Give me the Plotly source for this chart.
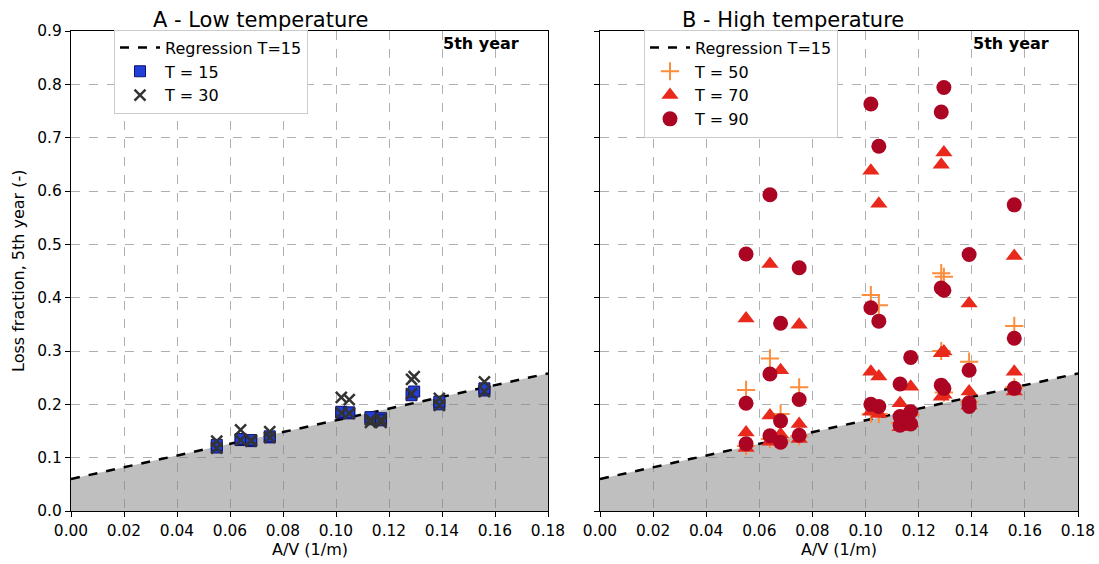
import plotly.graph_objects as go

# ---------------- data ----------------
reg_x = [0.0, 0.18]
reg_y = [0.060, 0.258]

# Panel A - low temperature
t15_x = [0.055, 0.055, 0.064, 0.064, 0.068, 0.068, 0.075, 0.075, 0.102, 0.102, 0.105, 0.105,
         0.113, 0.113, 0.117, 0.117, 0.1285, 0.1295, 0.139, 0.139, 0.156, 0.156]
t15_y = [0.119, 0.124, 0.133, 0.135, 0.131, 0.133, 0.138, 0.140, 0.184, 0.186, 0.183, 0.185,
         0.172, 0.176, 0.174, 0.170, 0.217, 0.224, 0.200, 0.205, 0.226, 0.230]
t30_x = [0.055, 0.055, 0.064, 0.064, 0.068, 0.068, 0.075, 0.075, 0.102, 0.102, 0.105, 0.105,
         0.113, 0.113, 0.117, 0.117, 0.1285, 0.1295, 0.1285, 0.139, 0.139, 0.156, 0.156]
t30_y = [0.118, 0.131, 0.133, 0.152, 0.131, 0.133, 0.138, 0.149, 0.184, 0.213, 0.183, 0.209,
         0.166, 0.172, 0.166, 0.172, 0.247, 0.252, 0.220, 0.198, 0.211, 0.224, 0.242]

# Panel B - high temperature
t50_x = [0.055, 0.055, 0.064, 0.064, 0.068, 0.068, 0.075, 0.075, 0.102, 0.102, 0.105, 0.105,
         0.113, 0.117, 0.1285, 0.1295, 0.1285, 0.1295, 0.139, 0.139, 0.156, 0.156]
t50_y = [0.227, 0.122, 0.286, 0.135, 0.182, 0.132, 0.232, 0.140, 0.405, 0.182, 0.386, 0.182,
         0.165, 0.180, 0.446, 0.439, 0.300, 0.222, 0.280, 0.205, 0.347, 0.232]
t70_x = [0.055, 0.055, 0.055, 0.064, 0.064, 0.064, 0.068, 0.068, 0.075, 0.075, 0.075,
         0.102, 0.102, 0.102, 0.105, 0.105, 0.105, 0.113, 0.113, 0.117, 0.117,
         0.1285, 0.1295, 0.1285, 0.1295, 0.1285, 0.1295, 0.139, 0.139, 0.139, 0.156, 0.156, 0.156]
t70_y = [0.361, 0.147, 0.118, 0.463, 0.179, 0.130, 0.264, 0.144, 0.349, 0.163, 0.135,
         0.638, 0.261, 0.186, 0.576, 0.252, 0.182, 0.202, 0.157, 0.233, 0.165,
         0.649, 0.672, 0.296, 0.299, 0.214, 0.218, 0.389, 0.224, 0.198, 0.478, 0.261, 0.224]
t90_x = [0.055, 0.055, 0.055, 0.064, 0.064, 0.064, 0.068, 0.068, 0.068, 0.075, 0.075, 0.075,
         0.102, 0.102, 0.102, 0.105, 0.105, 0.105, 0.113, 0.113, 0.113, 0.117, 0.117, 0.117,
         0.1285, 0.1295, 0.1285, 0.1295, 0.1285, 0.1295, 0.139, 0.139, 0.139, 0.139,
         0.156, 0.156, 0.156]
t90_y = [0.482, 0.202, 0.126, 0.593, 0.257, 0.141, 0.352, 0.169, 0.129, 0.456, 0.209, 0.142,
         0.763, 0.381, 0.200, 0.684, 0.356, 0.196, 0.238, 0.177, 0.161, 0.288, 0.186, 0.163,
         0.748, 0.794, 0.418, 0.414, 0.236, 0.230, 0.481, 0.264, 0.203, 0.196,
         0.574, 0.324, 0.230]

x_ticks = [0.00, 0.02, 0.04, 0.06, 0.08, 0.10, 0.12, 0.14, 0.16, 0.18]
y_ticks = [0.0, 0.1, 0.2, 0.3, 0.4, 0.5, 0.6, 0.7, 0.8, 0.9]

# ---------------- figure ----------------
FONT = "DejaVu Sans"
TICK_FS = 15.4
FS = 16
fig = go.Figure()

for xa, ya, leg in [("x", "y", "legend"), ("x2", "y2", "legend2")]:
    fig.add_trace(go.Scatter(x=reg_x, y=reg_y, xaxis=xa, yaxis=ya, mode="none",
                             fill="tozeroy", fillcolor="rgba(128,128,128,0.5)",
                             showlegend=False, hoverinfo="skip"))
    fig.add_trace(go.Scatter(x=reg_x, y=reg_y, xaxis=xa, yaxis=ya, mode="lines",
                             line=dict(color="black", width=2.5, dash="dash"),
                             name="Regression T=15", legend=leg))

fig.add_trace(go.Scatter(x=t15_x, y=t15_y, xaxis="x", yaxis="y", mode="markers",
                         marker=dict(symbol="square", size=11, color="#1f3fd6",
                                     line=dict(color="#101070", width=1)),
                         name="T = 15", legend="legend"))
fig.add_trace(go.Scatter(x=t30_x, y=t30_y, xaxis="x", yaxis="y", mode="markers",
                         marker=dict(symbol="x-thin", size=11, color="#333333",
                                     line=dict(color="#333333", width=2.5)),
                         name="T = 30", legend="legend"))

fig.add_trace(go.Scatter(x=t50_x, y=t50_y, xaxis="x2", yaxis="y2", mode="markers",
                         marker=dict(symbol="cross-thin", size=13, color="#fd8d3c",
                                     line=dict(color="#fd8d3c", width=2)),
                         name="T = 50", legend="legend2"))
fig.add_trace(go.Scatter(x=t70_x, y=t70_y, xaxis="x2", yaxis="y2", mode="markers",
                         marker=dict(symbol="triangle-up", size=15, color="#e8291c"),
                         name="T = 70", legend="legend2"))
fig.add_trace(go.Scatter(x=t90_x, y=t90_y, xaxis="x2", yaxis="y2", mode="markers",
                         marker=dict(symbol="circle", size=15, color="#ab0523"),
                         name="T = 90", legend="legend2"))

axis_common = dict(range=[0, 0.18], tickvals=x_ticks, ticktext=[f"{v:.2f}" for v in x_ticks],
                   showline=True, linecolor="black", linewidth=1.2, mirror=True,
                   ticks="outside", ticklen=5, tickcolor="black",
                   showgrid=True, gridcolor="#b0b0b0", griddash="dash", gridwidth=1,
                   zeroline=False, tickfont=dict(size=TICK_FS, color="black"),
                   automargin=False)
yaxis_common = dict(range=[0, 0.9], tickvals=y_ticks,
                    showline=True, linecolor="black", linewidth=1.2, mirror=True,
                    ticks="outside", ticklen=5, tickcolor="black",
                    showgrid=True, gridcolor="#b0b0b0", griddash="dash", gridwidth=1,
                    zeroline=False, tickfont=dict(size=TICK_FS, color="black"),
                    automargin=False)

W = 1007  # plot-area width spanning both panels (x 71 .. 1078)
L = 71    # x of the plot area's left edge
fig.update_layout(
    width=1099, height=564,
    margin=dict(l=71, r=21, t=31, b=53, autoexpand=False),
    paper_bgcolor="white", plot_bgcolor="white",
    font=dict(family=FONT, color="black"),
    xaxis=dict(domain=[0, 477 / W], anchor="y", **axis_common),
    xaxis2=dict(domain=[529 / W, 1], anchor="y2", **axis_common),
    yaxis=dict(anchor="x", ticktext=[f"{v:.1f}" for v in y_ticks], **yaxis_common),
    yaxis2=dict(anchor="x2", matches="y", showticklabels=False, **yaxis_common),
    legend=dict(x=(114 - L) / W, y=1.003, xanchor="left", yanchor="top",
                bgcolor="white", bordercolor="#cccccc", borderwidth=1,
                font=dict(size=FS, color="black"), itemwidth=40, tracegroupgap=0),
    legend2=dict(x=(644 - L) / W, y=1.003, xanchor="left", yanchor="top",
                 bgcolor="white", bordercolor="#cccccc", borderwidth=1,
                 font=dict(size=FS, color="black"), itemwidth=40, tracegroupgap=0),
    showlegend=True,
    annotations=[
        dict(text="A - Low temperature", x=(260 - L) / W, y=1, xref="paper", yref="paper",
             xanchor="center", yanchor="middle", yshift=11, showarrow=False,
             font=dict(size=21, color="black")),
        dict(text="B - High temperature", x=(793 - L) / W, y=1, xref="paper", yref="paper",
             xanchor="center", yanchor="middle", yshift=11, showarrow=False,
             font=dict(size=21, color="black")),
        dict(text="<b>5th year</b>", x=0.1698, y=0.876, xref="x", yref="y",
             xanchor="right", yanchor="middle", showarrow=False, font=dict(size=FS, color="black")),
        dict(text="<b>5th year</b>", x=0.1698, y=0.876, xref="x2", yref="y2",
             xanchor="right", yanchor="middle", showarrow=False, font=dict(size=FS, color="black")),
        dict(text="A/V (1/m)", x=0.5, y=0, xref="x domain", yref="paper",
             xanchor="center", yanchor="middle", yshift=-38, showarrow=False,
             font=dict(size=FS, color="black")),
        dict(text="A/V (1/m)", x=0.5, y=0, xref="x2 domain", yref="paper",
             xanchor="center", yanchor="middle", yshift=-38, showarrow=False,
             font=dict(size=FS, color="black")),
        dict(text="Loss fraction, 5th year (-)", x=0, y=0.5, xref="paper", yref="paper",
             xanchor="center", yanchor="middle", xshift=18 - L, textangle=-90, showarrow=False,
             font=dict(size=FS, color="black")),
    ],
)

# remove the browser's default 8px page margin and scrollbars so the figure fills the window
fig.write_html(
    "out.html",
    config={"displayModeBar": False},
    post_script="document.body.style.margin='0';document.body.style.overflow='hidden';",
)
